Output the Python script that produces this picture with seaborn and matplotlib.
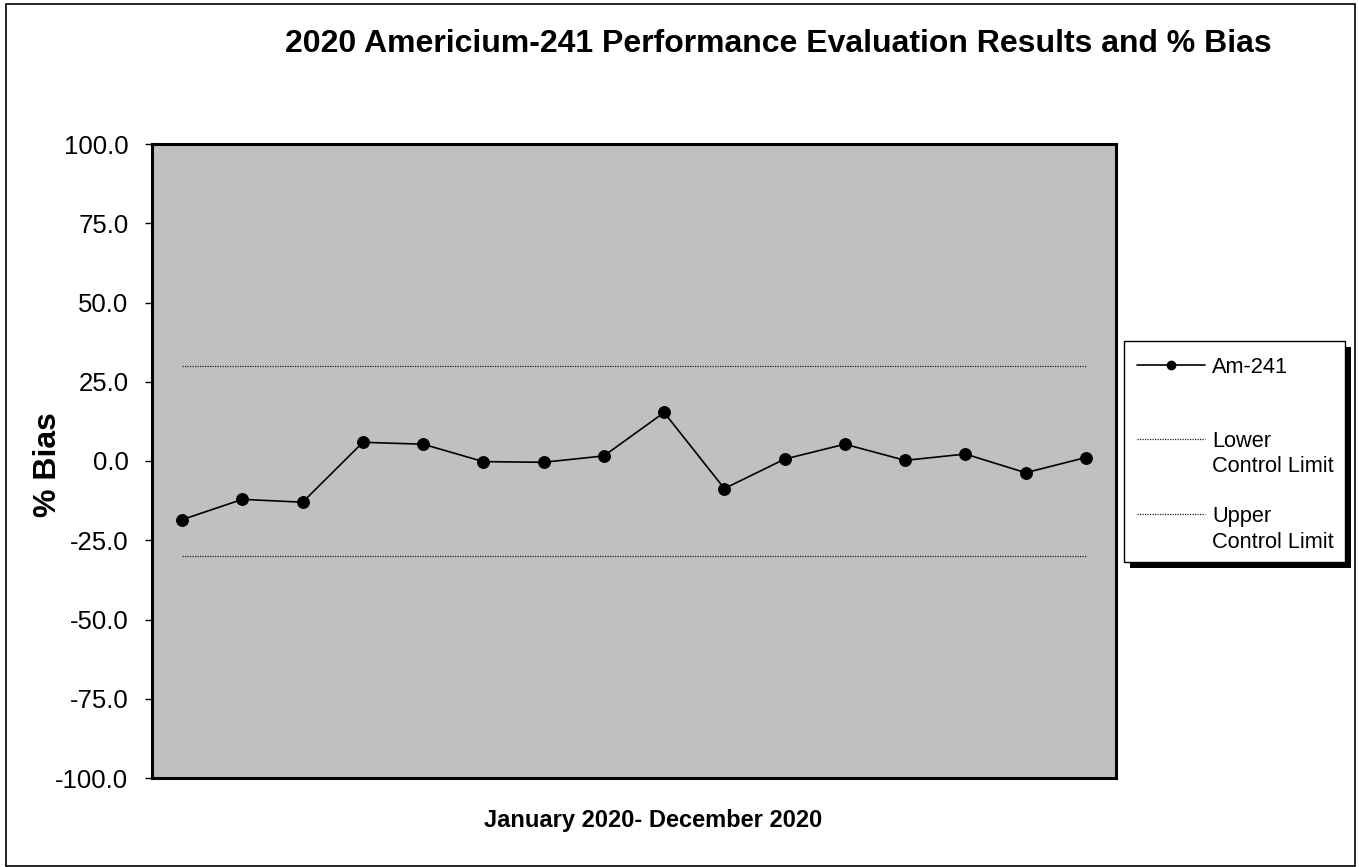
import matplotlib
matplotlib.use("Agg")
import matplotlib.pyplot as plt
import seaborn as sns
import pandas as pd
from matplotlib.lines import Line2D
from matplotlib.patches import Rectangle
from matplotlib.ticker import FormatStrFormatter

# ---------------- data ----------------
sample_index = [1, 2, 3, 4, 5, 6, 7, 8, 9, 10, 11, 12, 13, 14, 15, 16]
am241_bias = [-18.5, -12.1, -13.0, 5.9, 5.3, -0.2, -0.4, 1.6,
              15.3, -8.7, 0.6, 5.3, 0.2, 2.2, -3.7, 1.1]
lower_control_limit = [-30.0, -30.0, -30.0, -30.0, -30.0, -30.0, -30.0, -30.0,
                       -30.0, -30.0, -30.0, -30.0, -30.0, -30.0, -30.0, -30.0]
upper_control_limit = [30.0, 30.0, 30.0, 30.0, 30.0, 30.0, 30.0, 30.0,
                       30.0, 30.0, 30.0, 30.0, 30.0, 30.0, 30.0, 30.0]
y_ticks = [-100, -75, -50, -25, 0, 25, 50, 75, 100]
title_text = "2020 Americium-241 Performance Evaluation Results and % Bias"
x_label = "January 2020- December 2020"
y_label = "% Bias"
legend_labels = ["Am-241", "Lower\nControl Limit", "Upper\nControl Limit"]

# ---------------- style ----------------
sns.set_theme(style="white")
plt.rcParams["font.family"] = ["Liberation Sans", "DejaVu Sans"]

W, H = 1359, 867
fig = plt.figure(figsize=(W / 100, H / 100), dpi=100)
fig.patch.set_facecolor("white")


def fx(px):
    return px / W


def fy(py):
    return 1 - py / H


ax = fig.add_axes([fx(152), fy(778), (1116 - 152) / W, (778 - 144) / H])
ax.set_facecolor("#C0C0C0")

df = pd.DataFrame({"sample": sample_index, "bias": am241_bias,
                   "lcl": lower_control_limit, "ucl": upper_control_limit})

sns.lineplot(data=df, x="sample", y="lcl", ax=ax, color="#222222",
             linewidth=0.9, linestyle=(0, (1, 1)))
sns.lineplot(data=df, x="sample", y="ucl", ax=ax, color="#222222",
             linewidth=0.9, linestyle=(0, (1, 1)))
sns.lineplot(data=df, x="sample", y="bias", ax=ax, color="black",
             linewidth=1.2, marker="o", markersize=8.5,
             markerfacecolor="black", markeredgecolor="black")

ax.set_xlim(0.5, 16.5)
ax.set_ylim(-100, 100)
ax.set_yticks(y_ticks)
ax.yaxis.set_major_formatter(FormatStrFormatter("%.1f"))
ax.set_xticks([])
for sp in ax.spines.values():
    sp.set_visible(True)
    sp.set_color("black")
    sp.set_linewidth(2.2)
ax.tick_params(axis="y", direction="out", length=5, width=1, color="black",
               labelsize=18.5, pad=12, left=True, labelcolor="black")

ax.set_xlabel(x_label, fontsize=17, fontweight="bold", color="black")
ax.xaxis.set_label_coords((653.5 - 152) / 964, -(826.5 - 778) / 634)
ax.xaxis.label.set_va("baseline")

ax.set_ylabel(y_label, fontsize=23, fontweight="bold", color="black")
ax.yaxis.set_label_coords((48 - 152) / 964, (778 - 465) / 634)
ax.yaxis.label.set_va("center")
ax.yaxis.label.set_ha("center")

fig.text(fx(778.5), fy(51.7), title_text, ha="center", va="baseline",
         fontsize=23, fontweight="bold", color="black")

# figure border
fig.add_artist(Rectangle((fx(6), fy(866)), (1355 - 6) / W, (866 - 4) / H,
                         transform=fig.transFigure, fill=False,
                         edgecolor="black", linewidth=1.2, zorder=0.5))

# legend (box with shadow)
fig.add_artist(Rectangle((fx(1130), fy(568)), 221 / W, 221 / H,
                         transform=fig.transFigure, facecolor="black",
                         edgecolor="black", linewidth=0, zorder=1))
fig.add_artist(Rectangle((fx(1124), fy(562)), 221 / W, 221 / H,
                         transform=fig.transFigure, facecolor="white",
                         edgecolor="black", linewidth=1, zorder=1.1))
fig.add_artist(Line2D([fx(1137), fx(1205)], [fy(365), fy(365)],
                      transform=fig.transFigure, color="black", lw=1.2, zorder=2))
fig.add_artist(Line2D([fx(1171)], [fy(365)], transform=fig.transFigure,
                      marker="o", markersize=6, color="black", zorder=2.1))
for yline in (439, 514):
    fig.add_artist(Line2D([fx(1137), fx(1205)], [fy(yline), fy(yline)],
                          transform=fig.transFigure, color="#222222", lw=0.9,
                          linestyle=(0, (1, 1)), zorder=2))

LFS = 15.7
fig.text(fx(1212), fy(373.3), legend_labels[0], ha="left", va="baseline",
         fontsize=LFS, color="black")
low1, low2 = legend_labels[1].split("\n")
up1, up2 = legend_labels[2].split("\n")
fig.text(fx(1212), fy(446.7), low1, ha="left", va="baseline", fontsize=LFS, color="black")
fig.text(fx(1212), fy(472.3), low2, ha="left", va="baseline", fontsize=LFS, color="black")
fig.text(fx(1212), fy(521.7), up1, ha="left", va="baseline", fontsize=LFS, color="black")
fig.text(fx(1212), fy(547.7), up2, ha="left", va="baseline", fontsize=LFS, color="black")

fig.savefig("out.png", dpi=100)
